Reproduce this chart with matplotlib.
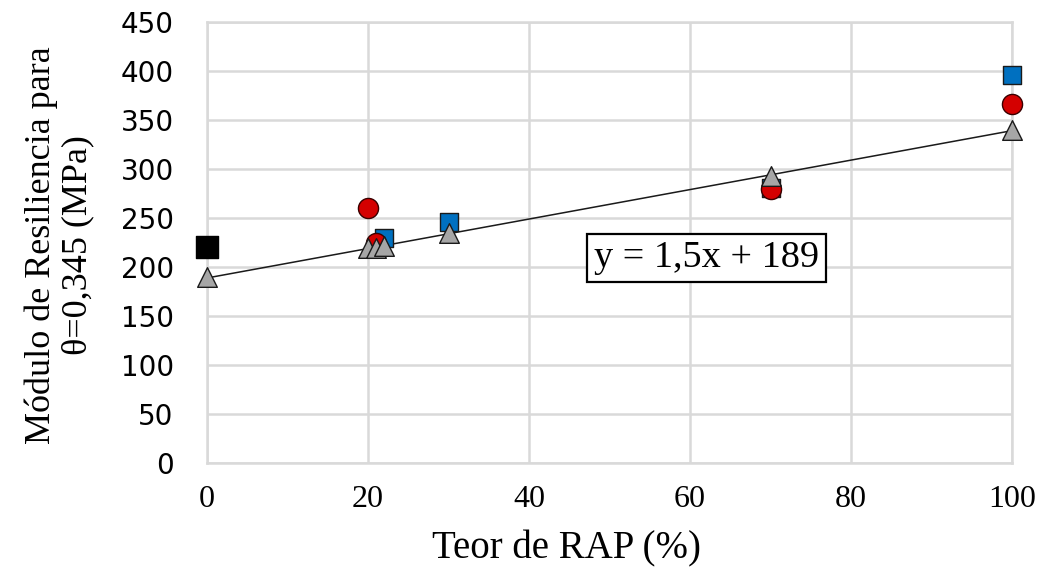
import numpy as np
import matplotlib.pyplot as plt

# --- data ---
rap_blue = [22, 30, 70, 100]
mr_blue = [230, 246, 281, 396]

rap_red = [20, 21, 70, 100]
mr_red = [260, 224, 280, 366]

rap_grey = [0, 20, 21, 22, 30, 70, 100]
mr_grey = [190, 219, 219, 221, 235, 293, 340]

rap_black = [0]
mr_black = [220]

x_ticks = [0, 20, 40, 60, 80, 100]
y_ticks = [0, 50, 100, 150, 200, 250, 300, 350, 400, 450]

serif = 'Liberation Serif'
grid_c = '#d9d9d9'

fig = plt.figure(figsize=(10.43, 5.72), dpi=100)
ax = fig.add_axes([0.1985, 0.1906, 0.7718, 0.7709])

ax.set_xlim(0, 100)
ax.set_ylim(0, 450)
ax.set_xticks(x_ticks)
ax.set_yticks(y_ticks)
ax.grid(True, color=grid_c, linewidth=1.8, zorder=0)
ax.set_axisbelow(True)
for s in ax.spines.values():
    s.set_color(grid_c)
    s.set_linewidth(1.8)

ax.tick_params(length=0)
ax.tick_params(axis='y', pad=24, labelsize=20)
ax.tick_params(axis='x', pad=16, labelsize=23)
for lab in ax.get_xticklabels():
    lab.set_family(serif)
for lab in ax.get_yticklabels():
    lab.set_family('DejaVu Sans')

# trendline through the grey series
slope, icpt = np.polyfit(rap_grey, mr_grey, 1)
xs = np.array([0, 100])
ax.plot(xs, slope * xs + icpt, color='#1a1a1a', linewidth=1.1, zorder=3)

ax.scatter(rap_blue, mr_blue, marker='s', s=185, color='#0070c0',
           edgecolors='#1a1a1a', linewidths=1.0, zorder=4, clip_on=False)
ax.scatter(rap_red, mr_red, marker='o', s=210, color='#d40000',
           edgecolors='#3a0000', linewidths=1.0, zorder=5, clip_on=False)
ax.scatter(rap_grey, mr_grey, marker='^', s=200, color='#a6a6a6',
           edgecolors='#1a1a1a', linewidths=1.0, zorder=6, clip_on=False)
ax.scatter(rap_black, mr_black, marker='s', s=230, color='black',
           edgecolors='black', linewidths=1.0, zorder=6, clip_on=False)

# equation box
eq = 'y = {:.1f}x + {:.0f}'.format(slope, icpt).replace('.', ',')
ax.text(62, 209, eq, family=serif, fontsize=27.5, ha='center', va='center',
        zorder=7, bbox=dict(boxstyle='square,pad=0.18', facecolor='white',
                            edgecolor='black', linewidth=1.6))

ax.set_xlabel('Teor de RAP (%)', family=serif, fontsize=28)
ax.xaxis.set_label_coords(0.446, -0.153)
fig.text(0.057, 0.572, 'Módulo de Resiliencia para\nθ=0,345 (MPa)',
         family=serif, fontsize=26, rotation=90, ha='center', va='center',
         linespacing=1.12)

fig.savefig('out.png', dpi=100)
